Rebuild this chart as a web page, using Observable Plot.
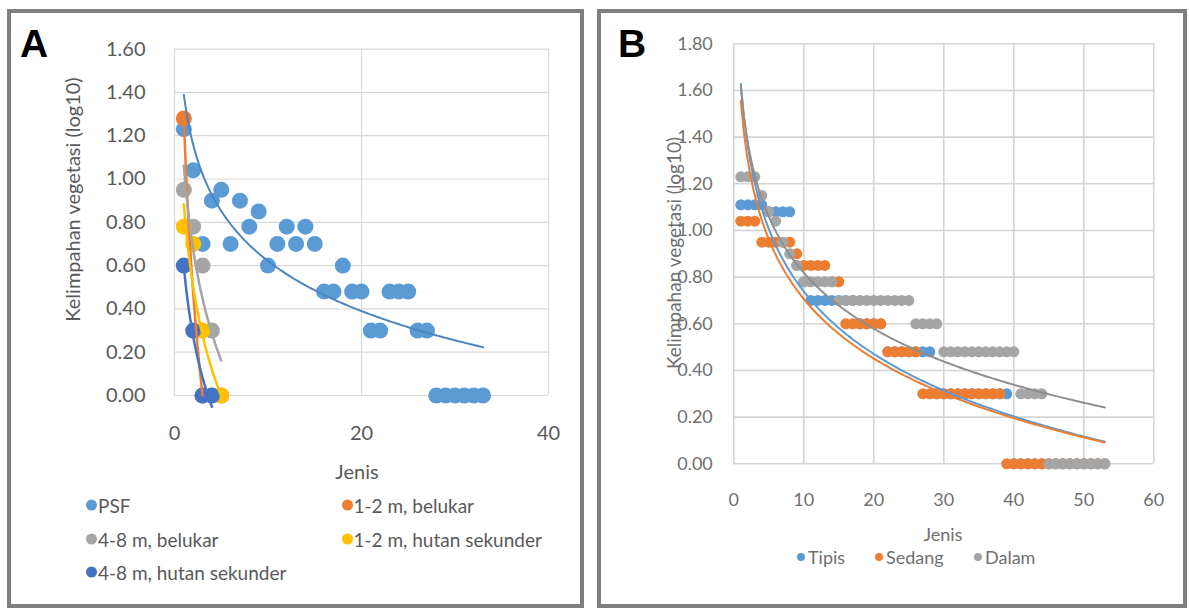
<!DOCTYPE html>
<html>
<head>
<meta charset="utf-8">
<script src="https://cdn.jsdelivr.net/npm/d3@7"></script>
<script src="https://cdn.jsdelivr.net/npm/@observablehq/plot@0.6"></script>
<style>
  body { margin: 0; background: #fff; font-family: Lato, "Open Sans", sans-serif; }
  #root { position: relative; width: 1189px; height: 610px; overflow: hidden; background: #fff; }
  .panel { position: absolute; box-sizing: border-box; border: 4px solid #7f7f7f; }
  .plot { position: absolute; top: 0; }
  .tag { position: absolute; font-family: "Liberation Sans", Arial, sans-serif; font-weight: bold; font-size: 39px; line-height: 1; color: #000; }
  .txt { position: absolute; white-space: nowrap; transform: translate(-50%, -50%); line-height: 1; }
  .leg { position: absolute; white-space: nowrap; display: flex; align-items: center; transform: translateY(-50%); line-height: 1; }
  .leg span.dot { display: inline-block; border-radius: 50%; }
</style>
</head>
<body>
<div id="root"></div>
<script>
// ---------------- Panel A data ----------------
const seriesA = ["PSF", "1-2 m, belukar", "4-8 m, belukar", "1-2 m, hutan sekunder", "4-8 m, hutan sekunder"];
const colorsA = ["#5B9BD5", "#ED7D31", "#A5A5A5", "#FFC000", "#4472C4"];
const psfX = [1,2,3,4,5,6,7,8,9,10,11,12,13,14,15,16,17,18,19,20,21,22,23,24,25,26,27,28,29,30,31,32,33];
const psfY = [1.23,1.04,0.70,0.90,0.95,0.70,0.90,0.78,0.85,0.60,0.70,0.78,0.70,0.78,0.70,0.48,0.48,0.60,0.48,0.48,0.30,0.30,0.48,0.48,0.48,0.30,0.30,0,0,0,0,0,0];
const belukar12X = [1,3];
const belukar12Y = [1.28,0];
const belukar48X = [1,2,3,4,5];
const belukar48Y = [0.95,0.78,0.60,0.30,0];
const hutan12X = [1,2,3,4,5];
const hutan12Y = [0.78,0.70,0.30,0,0];
const hutan48X = [1,2,3,4];
const hutan48Y = [0.60,0.30,0,0];
const xTicksA = [0,20,40];
const yTicksA = [0,0.2,0.4,0.6,0.8,1.0,1.2,1.4,1.6];

// ---------------- Panel B data ----------------
const seriesB = ["Tipis", "Sedang", "Dalam"];
const colorsB = ["#5B9BD5", "#ED7D31", "#A5A5A5"];
const xB = [1,2,3,4,5,6,7,8,9,10,11,12,13,14,15,16,17,18,19,20,21,22,23,24,25,26,27,28,29,30,31,32,33,34,35,36,37,38,39,40,41,42,43,44,45,46,47,48,49,50,51,52,53];
const tipisY = [1.11,1.11,1.11,1.11,1.08,1.08,1.08,1.08,0.85,0.78,
                0.70,0.70,0.70,0.70,0.70,0.70,0.70,0.60,0.60,0.60,
                0.60,0.48,0.48,0.48,0.48,0.48,0.48,0.48,0.30,0.30,
                0.30,0.30,0.30,0.30,0.30,0.30,0.30,0.30,0.30,0,
                0,0,0,0,0,0,0,0,0,0,0,0,0];
const sedangY = [1.04,1.04,1.04,0.95,0.95,0.95,0.95,0.95,0.90,0.85,
                 0.85,0.85,0.85,0.78,0.78,0.60,0.60,0.60,0.60,0.60,
                 0.60,0.48,0.48,0.48,0.48,0.48,0.30,0.30,0.30,0.30,
                 0.30,0.30,0.30,0.30,0.30,0.30,0.30,0.30,0,0,
                 0,0,0,0,0,0,0,0,0,0,0,0,0];
const dalamY = [1.23,1.23,1.23,1.15,1.08,1.04,0.95,0.90,0.85,0.78,
                0.78,0.78,0.78,0.78,0.70,0.70,0.70,0.70,0.70,0.70,
                0.70,0.70,0.70,0.70,0.70,0.60,0.60,0.60,0.60,0.48,
                0.48,0.48,0.48,0.48,0.48,0.48,0.48,0.48,0.48,0.48,
                0.30,0.30,0.30,0.30,0,0,0,0,0,0,0,0,0];
const xTicksB = [0,10,20,30,40,50,60];
const yTicksB = [0,0.2,0.4,0.6,0.8,1.0,1.2,1.4,1.6,1.8];

// ---------------- helpers ----------------
const toRows = (xs, ys, s) => xs.map((x, i) => ({x, y: ys[i], s}));
// Excel-style logarithmic trendline (least squares of y on ln x) over the data's x range
function logTrend(xs, ys, s) {
  const lx = xs.map(Math.log);
  const mx = d3.mean(lx), my = d3.mean(ys);
  let sxy = 0, sxx = 0;
  lx.forEach((l, i) => { sxy += (l - mx) * (ys[i] - my); sxx += (l - mx) ** 2; });
  const b = sxy / sxx, a = my - b * mx;
  const [x0, x1] = d3.extent(xs);
  return d3.range(0, 121).map(i => { const x = x0 + (x1 - x0) * i / 120; return {x, y: a + b * Math.log(x), s}; });
}

const root = document.getElementById("root");
function addDiv(cls, style, html) {
  const d = document.createElement("div");
  d.className = cls; Object.assign(d.style, style); d.innerHTML = html || "";
  root.appendChild(d); return d;
}

// panel frames
addDiv("panel", {left: "7px", top: "9px", width: "577px", height: "599px"});
addDiv("panel", {left: "597px", top: "9px", width: "590px", height: "599px"});

// ---------------- Panel A plot ----------------
const pairsA = [[psfX, psfY], [belukar12X, belukar12Y], [belukar48X, belukar48Y], [hutan12X, hutan12Y], [hutan48X, hutan48Y]];
const dotMarksA = pairsA.map(([xs, ys], i) => Plot.dot(toRows(xs, ys, seriesA[i]), {x: "x", y: "y", r: 8, fill: colorsA[i], stroke: "none"}));
const lineMarksA = pairsA.map(([xs, ys], i) => Plot.line(logTrend(xs, ys, seriesA[i]), {x: "x", y: "y", stroke: i === 0 ? "#4a86c0" : colorsA[i], strokeWidth: i === 0 ? 2 : 2.5}));

const plotA = Plot.plot({
  width: 590, height: 460,
  marginLeft: 174, marginRight: 42, marginTop: 48.6, marginBottom: 65,
  x: {domain: [0, 40]},
  y: {domain: [0, 1.6]},
  style: {fontFamily: "Lato, 'Open Sans', sans-serif", color: "#595959", background: "transparent", overflow: "visible"},
  marks: [
    Plot.gridY(yTicksA, {stroke: "#d9d9d9", strokeOpacity: 1, strokeWidth: 1.2}),
    Plot.gridX(xTicksA, {stroke: "#d9d9d9", strokeOpacity: 1, strokeWidth: 1.2}),
    Plot.axisX(xTicksA, {tickSize: 0, tickPadding: 30, fontSize: 20, label: null}),
    Plot.axisY(yTicksA, {tickSize: 0, tickPadding: 29, fontSize: 20, tickFormat: d => d.toFixed(2), label: null}),
    ...dotMarksA,
    ...lineMarksA
  ]
});
plotA.classList.add("plot");
plotA.style.left = "0px";
root.appendChild(plotA);
d3.select(plotA).append("text")
  .attr("transform", "translate(71.5,199.5) rotate(-90)")
  .attr("text-anchor", "middle").attr("dominant-baseline", "central")
  .attr("fill", "#595959").attr("font-size", 20)
  .text("Kelimpahan vegetasi (log10)");

addDiv("tag", {left: "20px", top: "24px"}, "A");
addDiv("txt", {left: "357px", top: "471px", fontSize: "20px", color: "#595959"}, "Jenis");

const legA = [[91.5, 505], [347, 505], [91.5, 539], [347, 539], [91.5, 572]];
seriesA.forEach((s, k) => {
  const [lx, ly] = legA[k];
  addDiv("leg", {left: (lx - 5.5) + "px", top: ly + "px", fontSize: "19px", color: "#595959"},
    `<span class="dot" style="width:11px;height:11px;background:${colorsA[k]};margin-right:1px"></span>${s}`);
});

// ---------------- Panel B plot ----------------
const yB = [tipisY, sedangY, dalamY];
const dotMarksB = yB.map((ys, i) => Plot.dot(toRows(xB, ys, seriesB[i]), {x: "x", y: "y", r: 5.5, fill: colorsB[i], stroke: "none"}));
const lineMarksB = yB.map((ys, i) => Plot.line(logTrend(xB, ys, seriesB[i]), {x: "x", y: "y", stroke: i === 2 ? "#8f8f8f" : colorsB[i], strokeWidth: 2}));

const plotB = Plot.plot({
  width: 590, height: 510,
  marginLeft: 138.3, marginRight: 31.7, marginTop: 43.3, marginBottom: 46.7,
  x: {domain: [0, 60]},
  y: {domain: [0, 1.8]},
  style: {fontFamily: "Lato, 'Open Sans', sans-serif", color: "#6f6f6f", background: "transparent", overflow: "visible"},
  marks: [
    Plot.gridY(yTicksB, {stroke: "#d4d4d4", strokeOpacity: 1, strokeWidth: 1.6}),
    Plot.gridX(xTicksB, {stroke: "#d4d4d4", strokeOpacity: 1, strokeWidth: 1.6}),
    Plot.axisX(xTicksB, {tickSize: 0, tickPadding: 29, fontSize: 18, label: null}),
    Plot.axisY(yTicksB, {tickSize: 0, tickPadding: 21, fontSize: 18, tickFormat: d => d.toFixed(2), label: null}),
    ...dotMarksB,
    ...lineMarksB
  ]
});
plotB.classList.add("plot");
plotB.style.left = "595px";
root.appendChild(plotB);
d3.select(plotB).append("text")
  .attr("transform", "translate(78,253) rotate(-90)")
  .attr("text-anchor", "middle").attr("dominant-baseline", "central")
  .attr("fill", "#6f6f6f").attr("font-size", 19)
  .text("Kelimpahan vegetasi (log10)");

addDiv("tag", {left: "618px", top: "24px"}, "B");
addDiv("txt", {left: "943px", top: "534px", fontSize: "18px", color: "#6f6f6f"}, "Jenis");

const legBx = [801, 879, 978];
seriesB.forEach((s, i) => {
  addDiv("leg", {left: (legBx[i] - 4) + "px", top: "557px", fontSize: "18px", color: "#6f6f6f"},
    `<span class="dot" style="width:8px;height:8px;background:${colorsB[i]};margin-right:3px"></span>${s}`);
});
</script>
</body>
</html>
